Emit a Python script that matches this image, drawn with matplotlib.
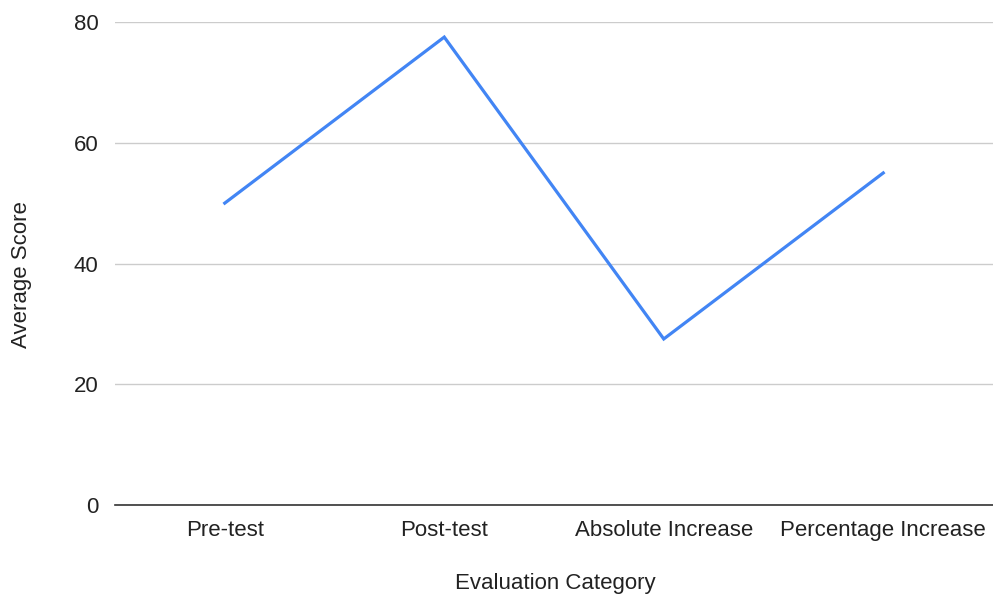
import matplotlib
matplotlib.use("Agg")
import matplotlib.pyplot as plt

plt.rcParams['font.family'] = ['Liberation Sans', 'DejaVu Sans']

categories = ["Pre-test", "Post-test", "Absolute Increase", "Percentage Increase"]
scores = [50, 77.5, 27.5, 55]
y_ticks = [0, 20, 40, 60, 80]

fig = plt.figure(figsize=(9.93, 5.98), dpi=100)
ax = fig.add_axes([115/993, 93/598, 878/993, 483/598])

x = list(range(len(categories)))
ax.plot(x, scores, color='#4285F4', linewidth=2.3, solid_joinstyle='miter')

ax.set_xlim(-0.5, 3.5)
ax.set_ylim(0, 80)
ax.set_yticks(y_ticks)
ax.set_xticks(x)
ax.set_xticklabels(categories)
ax.grid(axis='y', color='#cccccc', linewidth=1)
ax.set_axisbelow(True)
for s in ['top', 'right', 'left']:
    ax.spines[s].set_visible(False)
ax.spines['bottom'].set_color('#333333')
ax.spines['bottom'].set_linewidth(1.2)
ax.tick_params(axis='both', length=0, labelsize=16, colors='#222222')
ax.tick_params(axis='x', pad=11)
ax.tick_params(axis='y', pad=12)

# axis titles placed where the reference has them
fig.text(555/993, 1 - 584/598, "Evaluation Category", fontsize=16, color='#222222',
         ha='center', va='center')
fig.text(22/993, 1 - 275/598, "Average Score", fontsize=16, color='#222222',
         ha='center', va='center', rotation=90)

fig.savefig("out.png", dpi=100)
